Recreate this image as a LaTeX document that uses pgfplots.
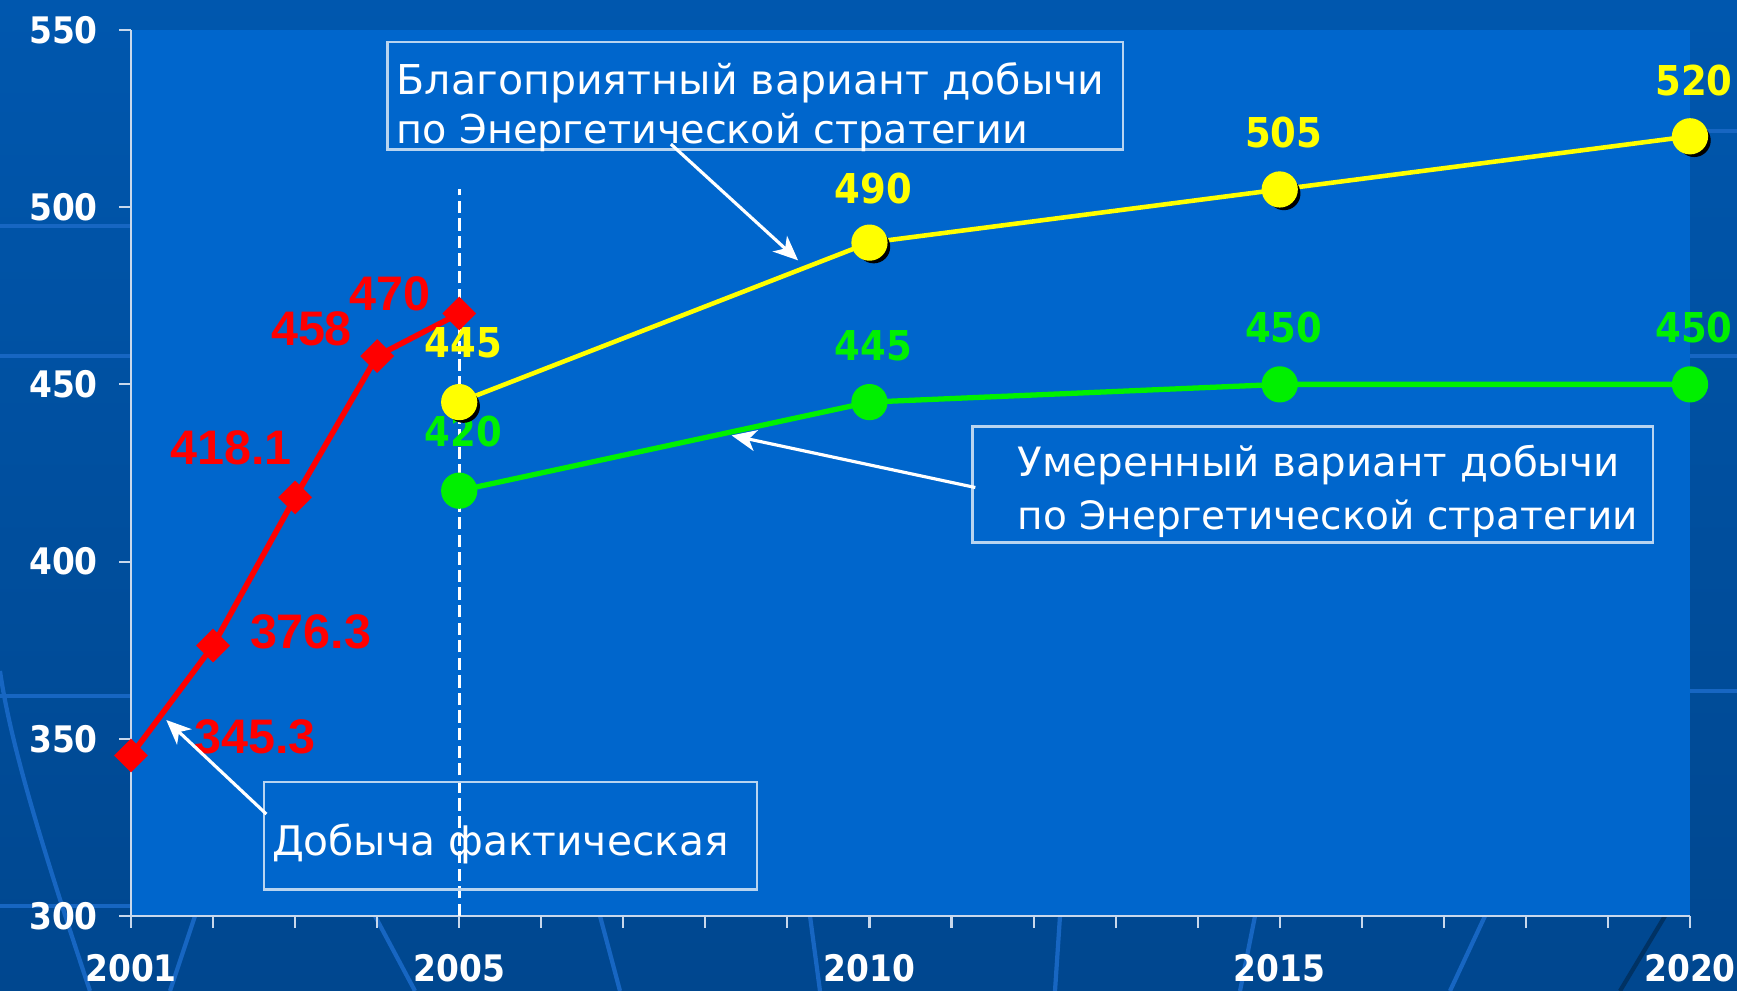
\documentclass[border=0pt]{standalone}
\usepackage{pgfplots}
\pgfplotsset{compat=1.18}
\usepackage{fontspec}
\setmainfont{DejaVu Sans}
\newfontfamily\arialfont{Liberation Sans}
\newfontfamily\numfont{DejaVu Sans}[FakeStretch=0.9]
\usetikzlibrary{arrows.meta}

\definecolor{bgtop}{HTML}{0057AE}
\definecolor{bgbot}{HTML}{00478F}
\definecolor{plotbg}{HTML}{0066CC}
\definecolor{boxline}{HTML}{B8D4F0}
\definecolor{axline}{HTML}{C8D8EC}
\definecolor{deco}{HTML}{1766C2}
\definecolor{ylw}{HTML}{FFFF00}
\definecolor{grn}{HTML}{00F000}
\definecolor{rd}{HTML}{FF0000}

\begin{document}
\begin{tikzpicture}
\useasboundingbox (0,0) rectangle (17.37cm,9.91cm);
\shade[top color=bgtop,bottom color=bgbot] (0,0) rectangle (17.37cm,9.91cm);
% template decoration in the margins
\begin{scope}[deco, line width=1.2pt]
  \draw (0,6.35) -- (1.3,6.35);
  \draw (0,7.65) -- (1.3,7.65);
  \draw (0,2.95) -- (1.3,2.95);
  \draw (0,0.85) -- (1.3,0.85);
  \draw (1.7,0) -- (1.95,0.75);
  \draw (4.15,0) -- (3.75,0.75);
  \draw (6.2,0) -- (6.0,0.75);
  \draw (8.2,0) -- (8.1,0.75);
  \draw (10.55,0) -- (10.6,0.75);
  \draw (12.4,0) -- (12.55,0.75);
  \draw (14.5,0) -- (14.85,0.75);
  \draw[bgbot!70!black] (16.2,0) -- (16.65,0.75);
  \draw (0.9,0) .. controls (0.4,1.5) and (0.1,2.5) .. (0,3.2);
  \draw (16.9,3.0) -- (17.37,3.0);
  \draw (16.9,6.35) -- (17.37,6.35);
  \draw (16.9,8.6) -- (17.37,8.6);
\end{scope}
\begin{axis}[
  at={(1.31cm,0.75cm)}, anchor=south west,
  scale only axis, width=15.59cm, height=8.86cm,
  xmin=2001, xmax=2020, ymin=300, ymax=550,
  axis background/.style={fill=plotbg},
  axis x line*=bottom, axis y line*=left,
  axis line style={axline, line width=0.7pt, -},
  xtick={2001,2005,2010,2015,2020},
  minor xtick={2002,2003,2004,2006,2007,2008,2009,2011,2012,2013,2014,2016,2017,2018,2019},
  ytick={300,350,...,550},
  tick align=outside,
  major tick length=0.12cm, minor tick length=0.12cm,
  every tick/.style={axline, line width=0.6pt},
  every minor tick/.style={axline, line width=0.6pt},
  tick label style={white, font=\fontsize{10.4}{12}\selectfont\numfont\bfseries},
  /pgf/number format/assume math mode=true,
  /pgf/number format/1000 sep={},
  xticklabel shift=4pt,
  yticklabel shift=2.5pt,
  clip=false,
]
% yellow: favourable scenario (shadow first)
\addplot[only marks, mark=*, black, mark size=4.5pt,
  mark options={xshift=1.2pt, yshift=-1.2pt}] coordinates {
(2005,445)(2010,490)(2015,505)(2020,520)};
\addplot[ylw, line width=1.3pt, mark=*, mark size=4.5pt,
  mark options={fill=ylw, draw=ylw}] coordinates {
(2005,445)(2010,490)(2015,505)(2020,520)};
% green: moderate scenario
\addplot[grn, line width=1.5pt, mark=*, mark size=4.4pt,
  mark options={fill=grn, draw=grn}] coordinates {
(2005,420)(2010,445)(2015,450)(2020,450)};
% red: actual production
\addplot[rd, line width=1.6pt, mark=square*, mark size=2.6pt,
  mark options={fill=rd, draw=rd, rotate=45}] coordinates {
(2001,345.3)(2002,376.3)(2003,418.1)(2004,458)(2005,470)};
% dashed divider at 2005
\addplot[white, line width=0.8pt, dash pattern=on 3.5pt off 1.5pt] coordinates {
(2005,300)(2005,505)};

% value labels
\begin{scope}[every node/.style={font=\fontsize{13.8}{15}\selectfont\arialfont\bfseries, text=rd}]
  \node at (axis cs:2002.51,350.6) {345.3};
  \node at (axis cs:2003.19,380.3) {376.3};
  \node at (axis cs:2002.22,432.0) {418.1};
  \node at (axis cs:2003.20,465.6) {458};
  \node at (axis cs:2004.16,475.6) {470};
\end{scope}
\begin{scope}[every node/.style={font=\fontsize{11.7}{13}\selectfont\numfont\bfseries, text=ylw}]
  \node at (axis cs:2005.05,461.6) {445};
  \node at (axis cs:2010.05,505.3) {490};
  \node at (axis cs:2015.05,521.0) {505};
  \node at (axis cs:2020.05,535.6) {520};
\end{scope}
\begin{scope}[every node/.style={font=\fontsize{11.7}{13}\selectfont\numfont\bfseries, text=grn}]
  \node at (axis cs:2005.05,436.6) {420};
  \node at (axis cs:2010.05,461.0) {445};
  \node at (axis cs:2015.05,466.0) {450};
  \node at (axis cs:2020.05,466.0) {450};
\end{scope}

% callout boxes
\draw[boxline, line width=0.8pt] (axis cs:2004.13,546.6) rectangle (axis cs:2013.09,516.25);
\node[white, anchor=west, inner sep=0pt, font=\fontsize{11.7}{13}\selectfont] at (axis cs:2004.23,535.0) {Благоприятный вариант добычи};
\node[white, anchor=west, inner sep=0pt, font=\fontsize{11.3}{13}\selectfont] at (axis cs:2004.23,521.0) {по Энергетической стратегии};

\draw[boxline, line width=0.8pt] (axis cs:2011.26,438.1) rectangle (axis cs:2019.55,405.3);
\node[white, anchor=west, inner sep=0pt, font=\fontsize{11.5}{13}\selectfont] at (axis cs:2011.8,427.2) {Умеренный вариант добычи};
\node[white, anchor=west, inner sep=0pt, font=\fontsize{11.1}{13}\selectfont] at (axis cs:2011.8,412.2) {по Энергетической стратегии};

\draw[boxline, line width=0.8pt] (axis cs:2002.62,337.8) rectangle (axis cs:2008.63,307.5);
\node[white, anchor=west, inner sep=0pt, font=\fontsize{11.6}{14}\selectfont] at (axis cs:2002.71,320.3) {Добыча фактическая};

% arrows
\begin{scope}[white, line width=0.9pt, -{Stealth[length=7pt, width=6pt, inset=2pt]}]
  \draw (axis cs:2007.58,517.8) -- (axis cs:2009.13,485.0);
  \draw (axis cs:2011.29,420.9) -- (axis cs:2008.32,435.6);
  \draw (axis cs:2002.65,328.75) -- (axis cs:2001.43,355.3);
\end{scope}
\end{axis}
\end{tikzpicture}
\end{document}
